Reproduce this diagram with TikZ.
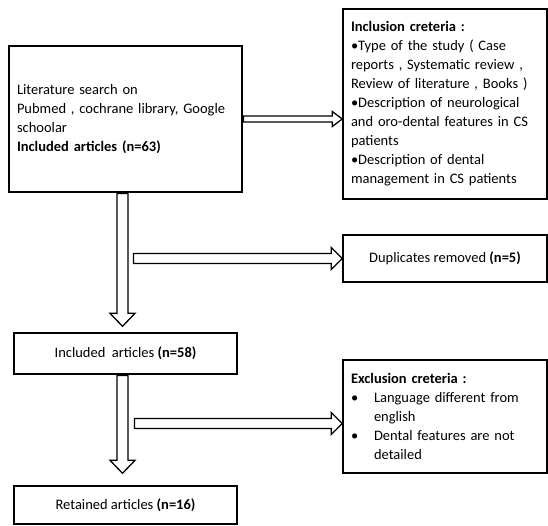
\documentclass[tikz,border=0pt]{standalone}
\usepackage{fontspec}
\setmainfont{Carlito}
\usetikzlibrary{calc}
\newcommand{\exbullet}{\makebox[23pt][l]{\textbullet}}
\begin{document}
\begin{tikzpicture}[x=1pt,y=-1pt]
    \tikzstyle{box}=[draw,line width=1.4pt,inner xsep=8pt,inner ysep=4pt,font=\fontsize{14.5}{19}\selectfont]
    \tikzstyle{harrow}=[draw,fill=white,line width=1.3pt,to path={let \p1=(\tikztostart), \p2=(\tikztotarget) in
      (\x1,\y1+5pt) -- (\x2-11pt,\y1+5pt) -- (\x2-11pt,\y1+11pt) -- (\x2,\y1) -- (\x2-11pt,\y1-11pt) -- (\x2-11pt,\y1-5pt) -- (\x1,\y1-5pt) -- cycle}]
    \tikzstyle{hsmall}=[draw,fill=white,line width=1.3pt,to path={let \p1=(\tikztostart), \p2=(\tikztotarget) in
      (\x1,\y1+3pt) -- (\x2-10pt,\y1+3pt) -- (\x2-10pt,\y1+7.5pt) -- (\x2,\y1) -- (\x2-10pt,\y1-7.5pt) -- (\x2-10pt,\y1-3pt) -- (\x1,\y1-3pt) -- cycle}]
    \tikzstyle{varrow}=[draw,fill=white,line width=1.3pt,to path={let \p1=(\tikztostart), \p2=(\tikztotarget) in
      (\x1-5.5pt,\y1) -- (\x1-5.5pt,\y2+13pt) -- (\x1-12.5pt,\y2+13pt) -- (\x1,\y2) -- (\x1+12.5pt,\y2+13pt) -- (\x1+5.5pt,\y2+13pt) -- (\x1+5.5pt,\y1) -- cycle}]
    \useasboundingbox (0,0) rectangle (548,526);

      \node (search) at (125.5,119) [box,align=left,text width=217pt,minimum height=146pt]
        {Literature search on\\Pubmed , cochrane library, Google\\schoolar\\\textbf{Included articles (n=63)}};
      \node (inclcrit) at (445,104) [box,align=left,text width=188pt,minimum height=190pt]
        {\textbf{Inclusion creteria :}\\•Type of the study ( Case\\reports , Systematic review ,\\Review of literature , Books )\\•Description of neurological\\and oro-dental features in CS\\patients\\•Description of dental\\management in CS patients\\[4pt]};
      \node (dup) at (445,258.5) [box,align=center,minimum width=204pt,minimum height=47pt]
        {Duplicates removed \textbf{(n=5)}};
      \node (incl) at (125.5,353.5) [box,align=center,minimum width=223pt,minimum height=41pt]
        {Included~ articles \textbf{(n=58)}};
      \node (exclcrit) at (445,416.5) [box,align=left,text width=188pt,minimum height=113pt]
        {\textbf{Exclusion creteria :}\\\exbullet Language different from\\\hspace*{23pt}english\\\exbullet Dental features are not\\\hspace*{23pt}detailed};
      \node (retained) at (125.5,505) [box,align=center,minimum width=223pt,minimum height=38pt]
        {Retained articles \textbf{(n=16)}};

      % arrow ends
      \coordinate (a1) at ([xshift=0.7pt]search.east);
      \coordinate (v1) at ([xshift=-3pt,yshift=-0.7pt]search.south);
      \coordinate (v1end) at ([xshift=-3pt,yshift=6pt]incl.north);
      \coordinate (v2) at ([xshift=-3pt,yshift=-0.7pt]incl.south);
      \coordinate (v2end) at ([xshift=-3pt,yshift=12pt]retained.north);
      \coordinate (d1) at (133.5,258.5);
      \coordinate (e1) at (134.5,423.5);

      \path[hsmall] (a1) to (a1 -| inclcrit.west);
      \path[varrow] (v1) to (v1end);
      \path[harrow] (d1) to (d1 -| dup.west);
      \path[varrow] (v2) to (v2end);
      \path[harrow] (e1) to (e1 -| exclcrit.west);
  \end{tikzpicture}
\end{document}
